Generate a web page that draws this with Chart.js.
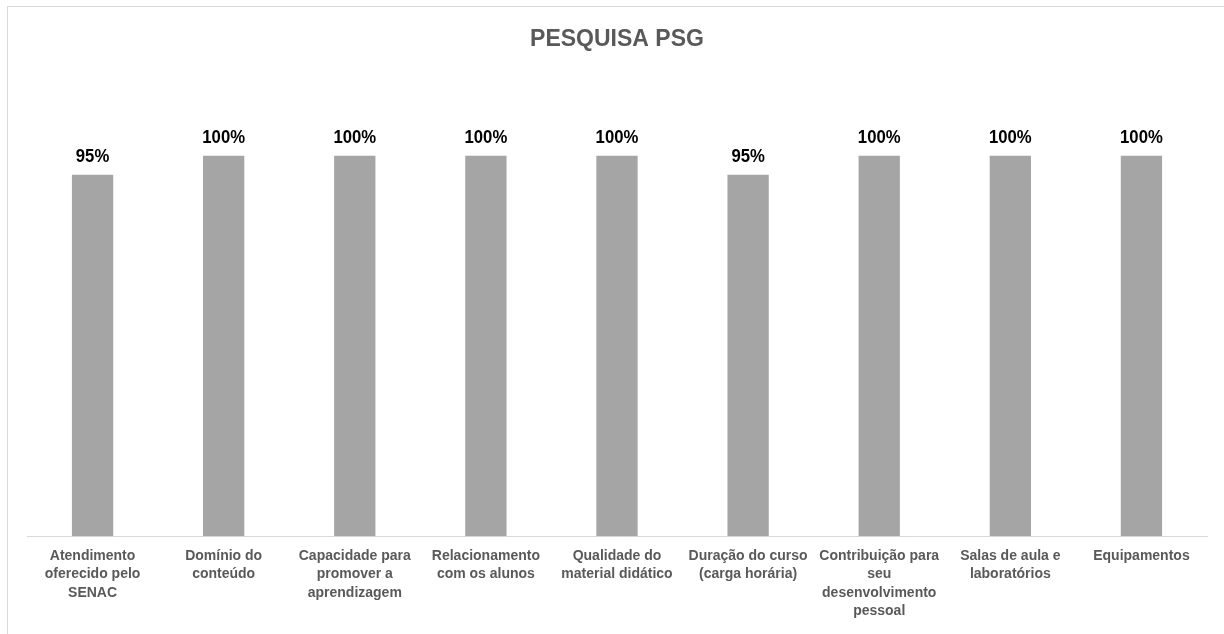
<!DOCTYPE html>
<html lang="pt">
  <head>
    <meta charset="UTF-8" />
    <title>PESQUISA PSG</title>
    <script src="https://cdn.jsdelivr.net/npm/chart.js@4.4.1/dist/chart.umd.min.js"></script>
    <style>
      body {
        margin: 0;
        background: #ffffff;
        overflow: hidden;
      }

      .frame {
        position: absolute;
        left: 7px;
        top: 6px;
        border-left: 1px solid #d9d9d9;
        border-top: 1px solid #d9d9d9;
      }

      .chart-box {
        width: 1216px;
        height: 627px;
      }
    </style>
  </head>
  <body>
    <div class="frame">
      <div class="chart-box">
        <canvas id="psgChart"></canvas>
      </div>
    </div>
    <script>
      const categories = [
        ["Atendimento", "oferecido pelo", "SENAC"],
        ["Domínio do", "conteúdo"],
        ["Capacidade para", "promover a", "aprendizagem"],
        ["Relacionamento", "com os alunos"],
        ["Qualidade do", "material didático"],
        ["Duração do curso", "(carga horária)"],
        ["Contribuição para", "seu", "desenvolvimento", "pessoal"],
        ["Salas de aula e", "laboratórios"],
        ["Equipamentos"],
      ];
      const percentages = [95, 100, 100, 100, 100, 95, 100, 100, 100];

      // value labels above each bar (no datalabels plugin offline)
      const barLabels = {
        id: "barLabels",
        afterDatasetsDraw(chart) {
          const ctx = chart.ctx;
          const meta = chart.getDatasetMeta(0);
          ctx.save();
          ctx.fillStyle = "#000000";
          ctx.font = "bold 19px 'Liberation Sans', Arial, sans-serif";
          ctx.textAlign = "center";
          ctx.textBaseline = "alphabetic";
          meta.data.forEach((bar, i) => {
            ctx.save();
            ctx.translate(bar.x, bar.y - 13);
            ctx.scale(0.88, 1);
            ctx.fillText(percentages[i] + "%", 0, 0);
            ctx.restore();
          });
          ctx.restore();
        },
      };

      const ctx = document.getElementById("psgChart").getContext("2d");
      new Chart(ctx, {
        type: "bar",
        data: {
          labels: categories,
          datasets: [
            {
              label: "PESQUISA PSG",
              data: percentages,
              backgroundColor: "#a5a5a5",
              barPercentage: 0.63,
              categoryPercentage: 0.5,
            },
          ],
        },
        options: {
          responsive: true,
          maintainAspectRatio: false,
          animation: false,
          layout: {
            padding: {left: 19, right: 17, top: 0, bottom: 3},
          },
          plugins: {
            legend: {display: false},
            tooltip: {enabled: false},
            title: {
              display: true,
              text: "PESQUISA PSG",
              color: "#595959",
              font: {
                family: "'Liberation Sans', Arial, sans-serif",
                size: 23,
                weight: "bold",
                lineHeight: 1.2,
              },
              padding: {top: 19, bottom: 26},
            },
          },
          scales: {
            x: {
              grid: {display: false, drawTicks: false},
              border: {display: true, color: "#d9d9d9", width: 1},
              ticks: {
                color: "#595959",
                padding: 11,
                maxRotation: 0,
                autoSkip: false,
                font: {
                  family: "'Liberation Sans', Arial, sans-serif",
                  size: 14,
                  weight: "bold",
                  lineHeight: 1.3,
                },
              },
            },
            y: {
              display: false,
              min: 0,
              max: 120,
            },
          },
        },
        plugins: [barLabels],
      });
    </script>
  </body>
</html>
